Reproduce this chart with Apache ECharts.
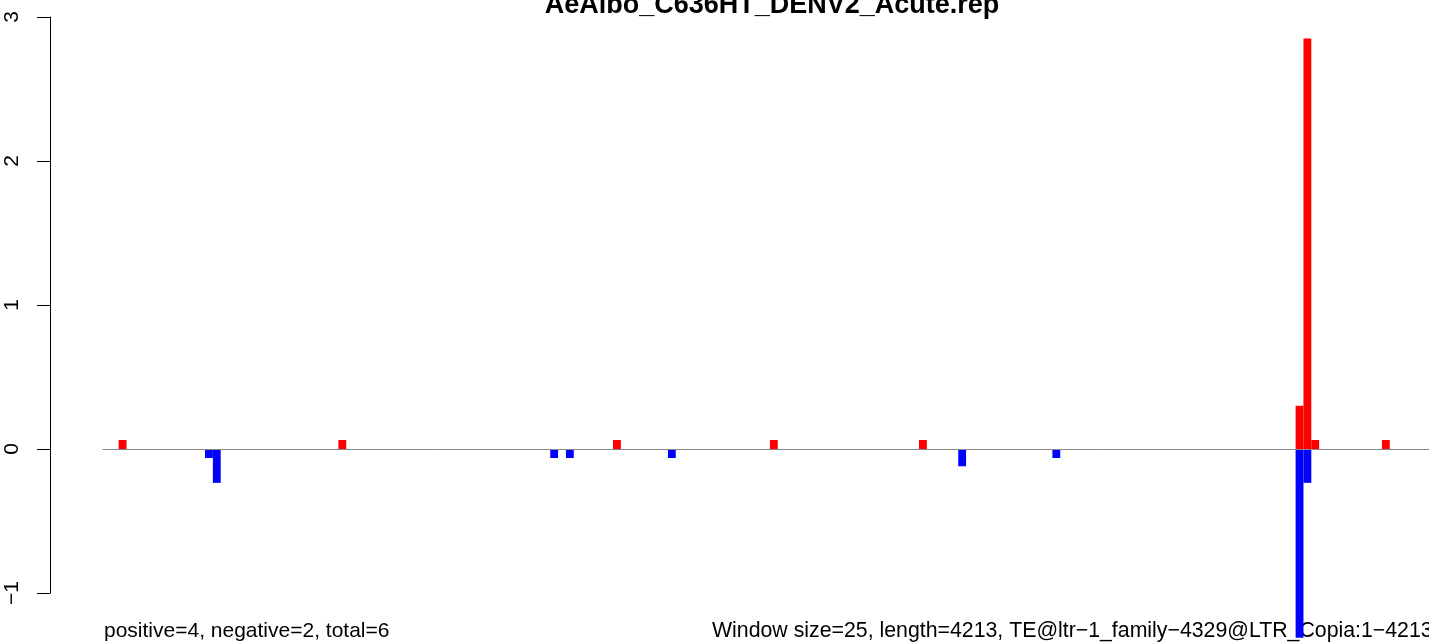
<!DOCTYPE html>
<html>
<head>
<meta charset="utf-8">
<script src="https://cdn.jsdelivr.net/npm/echarts@6/dist/echarts.min.js"></script>
<style>
    html, body { margin: 0; padding: 0; background: #fff; }
    #main { width: 1429px; height: 643px; }
</style>
</head>
<body>
<div id="main"></div>
<script>
    // window count = ceil(4213 / 25)
    var windowCount = 169;

    // positive (red) windows and heights
    var posIdx = [2, 30, 65, 85, 104, 152, 153, 154, 163];
    var posVal = [0.0625, 0.0625, 0.0625, 0.0625, 0.0625, 0.30, 2.85, 0.0625, 0.0625];

    // negative (blue) windows and depths
    var negIdx = [13, 14, 57, 59, 72, 109, 121, 152, 153];
    var negVal = [-0.0625, -0.235, -0.0625, -0.0625, -0.0625, -0.12, -0.0625, -1.31, -0.235];

    var yTicks = [-1, 0, 1, 2, 3];

    var titleText = 'AeAlbo_C636HT_DENV2_Acute.rep';
    var leftNote = 'positive=4, negative=2, total=6';
    var rightNote = 'Window size=25, length=4213, TE@ltr\u22121_family\u22124329@LTR_Copia:1\u22124213';

    var cats = [], posData = [], negData = [];
    for (var i = 0; i < windowCount; i++) {
        cats.push(i);
        posData.push(0);
        negData.push(0);
    };
    for (var i = 0; i < posIdx.length; i++) {
        posData[posIdx[i]] = posVal[i];
    };
    for (var i = 0; i < negIdx.length; i++) {
        negData[negIdx[i]] = negVal[i];
    };

    var font = 'Liberation Sans, Arial, sans-serif';
    var unit = 144;      // px per y unit
    var zeroY = 449;
    var yMin = -1.32, yMax = 3;

    var myChart = echarts.init(document.getElementById('main'));
    var option = {
        animation: false,
        backgroundColor: '#fff',
        title: {
            text: titleText,
            left: 767,
            textAlign: 'center',
            top: -13,
            textStyle: {
                fontFamily: font,
                fontWeight: 'bold',
                fontSize: 27,
                color: '#000'
            }
        },
        grid: [{
            left: 103,
            top: zeroY - yMax * unit,
            width: 1331,
            height: (yMax - yMin) * unit
        }, {
            left: 50,
            top: zeroY - yTicks[yTicks.length - 1] * unit,
            width: 1,
            height: (yTicks[yTicks.length - 1] - yTicks[0]) * unit
        }],
        xAxis: [{
            type: 'category',
            gridIndex: 0,
            data: cats,
            boundaryGap: true,
            axisLine: { show: true, onZero: true, lineStyle: { color: '#888', width: 1 } },
            axisTick: { show: false },
            axisLabel: { show: false },
            splitLine: { show: false },
            z: 10
        }, {
            type: 'value',
            gridIndex: 1,
            show: false
        }],
        yAxis: [{
            type: 'value',
            gridIndex: 0,
            min: yMin,
            max: yMax,
            show: false
        }, {
            type: 'value',
            gridIndex: 1,
            min: yTicks[0],
            max: yTicks[yTicks.length - 1],
            interval: 1,
            position: 'left',
            axisLine: { show: true, lineStyle: { color: '#000', width: 1 } },
            axisTick: { show: true, length: 13, lineStyle: { color: '#000' } },
            axisLabel: {
                rotate: 90,
                margin: 27,
                fontFamily: font,
                fontSize: 21,
                color: '#000',
                formatter: function (v) {
                    return String(v).replace('-', '\u2212');
                }
            },
            splitLine: { show: false }
        }],
        series: [{
            type: 'bar',
            xAxisIndex: 0,
            yAxisIndex: 0,
            data: posData,
            barWidth: '100%',
            barGap: '-100%',
            itemStyle: { color: '#ff0000' }
        }, {
            type: 'bar',
            xAxisIndex: 0,
            yAxisIndex: 0,
            data: negData,
            barWidth: '100%',
            barGap: '-100%',
            itemStyle: { color: '#0000ff' }
        }],
        graphic: [{
            type: 'text',
            left: 104,
            top: 621,
            style: {
                text: leftNote,
                font: '21px ' + font,
                fill: '#000'
            }
        }, {
            type: 'text',
            left: 712,
            top: 621,
            style: {
                text: rightNote,
                font: '21.3px ' + font,
                fill: '#000'
            }
        }]
    };
    myChart.setOption(option);
</script>
</body>
</html>
